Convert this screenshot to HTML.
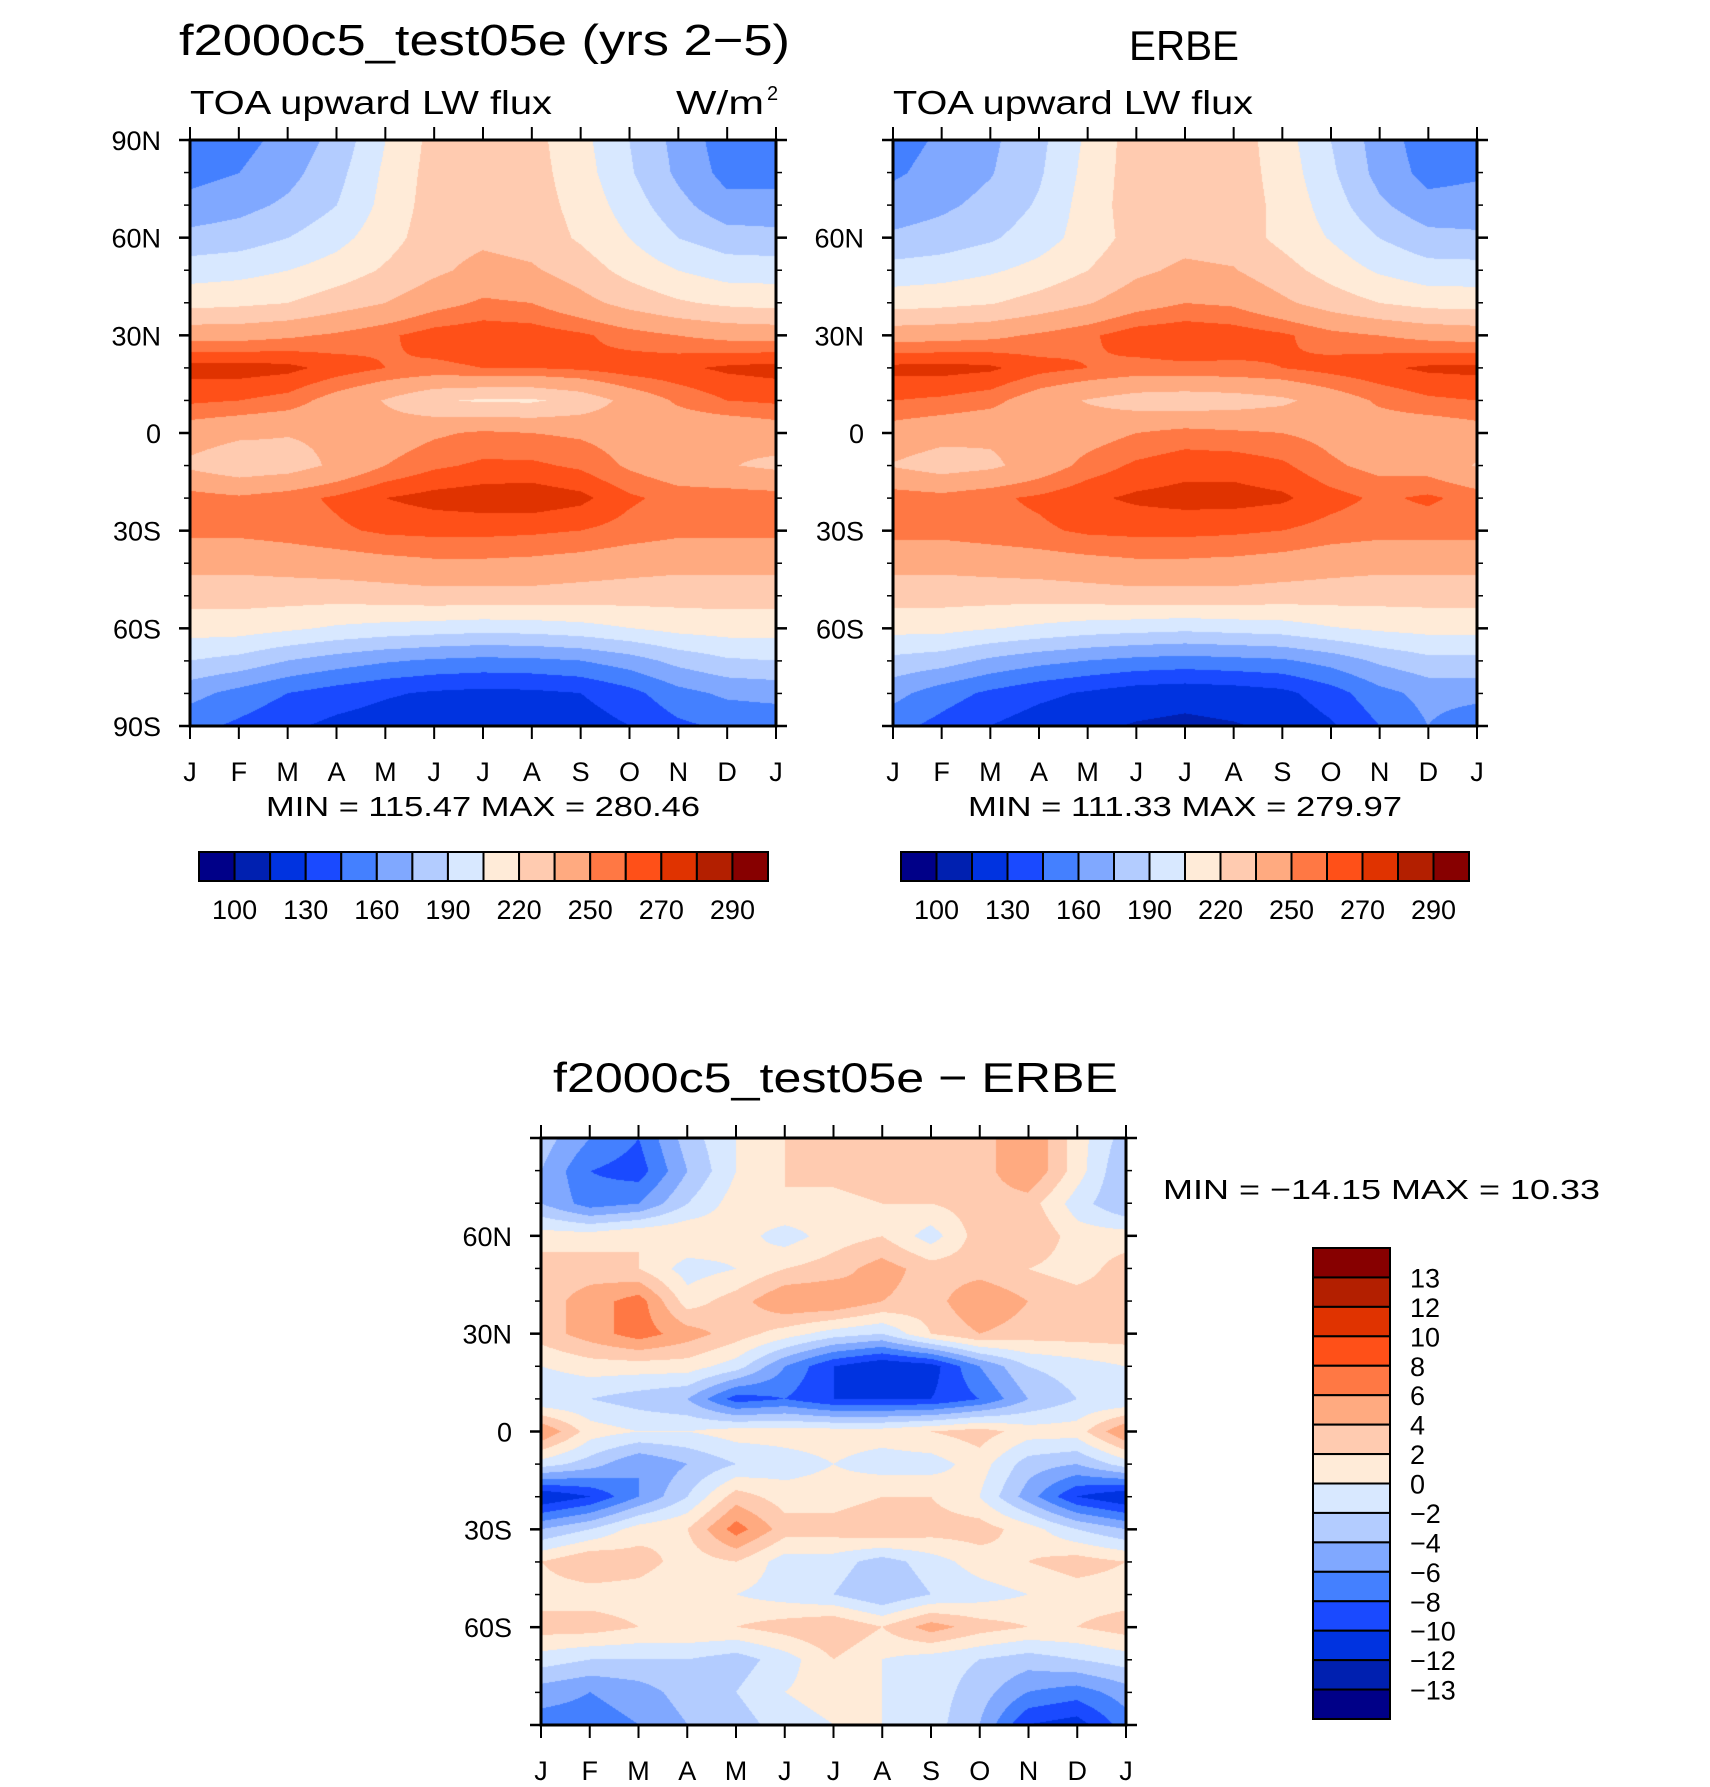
<!DOCTYPE html>
<html><head><meta charset="utf-8">
<style>
html,body{margin:0;padding:0;background:#fff;}
#wrap{position:relative;width:1710px;height:1787px;overflow:hidden;}
canvas{position:absolute;}
svg{position:absolute;left:0;top:0;}
text{font-family:"Liberation Sans",sans-serif;fill:#000;}
</style></head>
<body>
<div id="wrap">
<canvas id="c1"></canvas>
<canvas id="c2"></canvas>
<canvas id="c3"></canvas>
<svg id="ov" width="1710" height="1787"></svg>
</div>
<script>
// ---- data ----
const months = ["J","F","M","A","M","J","J","A","S","O","N","D","J"];
const lats = [90,80,70,60,50,40,30,20,10,0,-10,-20,-30,-40,-50,-60,-70,-80,-90];
const fluxLevels = [100,115,130,145,160,175,190,205,220,235,250,260,270,280,290];
const fluxLabels = ["100","130","160","190","220","250","270","290"];
const diffLevels = [-13,-12,-10,-8,-6,-4,-2,0,2,4,6,8,10,12,13];
const diffLabels = ["13","12","10","8","6","4","2","0","−2","−4","−6","−8","−10","−12","−13"];
const colors = ["#000088","#0020b0","#0033e0","#1a4aff","#4480ff","#80a8ff","#b3ccff","#d8e8ff","#ffebd8","#ffcbb0","#ffaa80","#ff7844","#ff5018","#e03300","#b31f00","#870000"];
const modelStats = "MIN = 115.47 MAX = 280.46";
const erbeStats = "MIN = 111.33 MAX = 279.97";
const diffStats = "MIN = −14.15 MAX =  10.33";
// rows = lats, columns = Jan..Dec
const model = [
[152,155,165,180,205,225,228,225,210,190,170,152],
[155,160,170,185,208,226,228,226,212,192,172,155],
[165,170,178,190,210,227,230,227,215,198,180,165],
[180,183,190,200,214,228,232,229,218,205,190,182],
[198,200,205,212,222,232,240,237,228,215,205,198],
[215,217,220,228,235,245,252,250,240,230,222,217],
[245,245,248,252,258,265,267,266,262,255,250,246],
[274,275,273,266,260,258,260,260,262,266,268,272],
[262,260,256,244,234,222,218,218,225,240,252,260],
[242,238,236,238,242,248,252,250,248,244,240,238],
[232,225,228,238,250,258,262,262,258,248,240,236],
[255,252,256,262,270,274,276,277,273,262,256,256],
[253,253,255,258,262,263,263,262,260,256,253,253],
[240,240,242,244,246,248,248,247,245,242,240,240],
[226,226,226,226,228,230,230,230,228,227,226,226],
[212,212,208,203,200,198,196,197,200,205,210,212],
[190,185,175,168,162,158,156,157,160,168,180,188],
[165,155,145,138,132,128,126,127,130,140,155,163],
[150,142,133,126,122,118,117,118,122,130,142,148]];
const erbe = [
[155,162,172,186,208,228,232,228,212,190,168,152],
[158,165,174,188,210,228,232,228,214,193,170,155],
[166,172,180,192,212,228,232,228,216,198,178,165],
[178,182,188,198,212,226,230,228,216,204,190,180],
[196,198,203,210,220,232,238,236,226,214,203,196],
[214,216,219,226,234,244,250,248,238,228,220,215],
[244,245,247,252,258,266,268,266,262,254,250,246],
[273,274,272,264,260,257,258,258,260,264,268,272],
[260,258,254,242,234,228,226,228,232,242,252,258],
[244,240,238,240,244,250,254,252,250,246,242,240],
[234,228,232,242,254,262,266,266,262,252,246,244],
[256,254,258,262,268,272,274,274,272,264,258,262],
[254,254,256,258,262,263,263,262,260,256,254,254],
[240,240,242,244,246,248,248,247,245,242,240,240],
[226,226,226,226,228,230,230,230,228,227,226,226],
[210,210,206,202,198,196,194,196,198,204,208,210],
[186,182,172,165,160,156,154,156,158,166,178,186],
[165,152,142,134,128,122,120,122,126,138,155,165],
[150,140,130,122,118,114,112,114,118,128,145,160]];
const diff = [
[-3,-6,-8,-3,0,2,3,4,3,3,6,1],
[-4,-8,-9,-4,0,2,3,4,3,3,6,1],
[-4,-7,-6,-2,1,2,1,2,2,3,3,-1],
[1,1,2,2,1,-1,1,2,-1,3,4,1],
[3,3,2,-1,0,2,3,5,3,3,2,1],
[3,5,7,1,3,6,6,4,3,6,4,3],
[3,5,7,5,3,1,-1,-2,2,4,3,3],
[0,1,1,1,-1,-6,-10,-12,-11,-6,-2,-1],
[-2,-2,-3,-4,-9,-8,-10,-10,-10,-8,-4,-2],
[6,1,0,0,1,1,1,1,2,3,1,1],
[-1,-3,-6,-4,-2,-1,0,-1,-1,1,-3,-4],
[-12,-10,-6,-2,3,1,1,2,2,0,-5,-10],
[-4,-2,1,2,7,3,3,4,3,3,1,-2],
[2,4,3,1,2,-1,-1,-3,-1,1,2,3],
[1,1,1,0,0,-1,-2,-4,-2,-1,0,1],
[3,3,2,2,2,3,4,2,5,3,2,2],
[-1,-2,-2,-2,-3,-1,2,0,-1,-2,-3,-2],
[-5,-6,-5,-3,-2,0,1,0,-1,-3,-6,-7],
[-7,-7,-6,-4,-3,-1,0,0,-1,-4,-10,-11]];

// ---- layout ----
const P1={x:190,y:140,w:586,h:586}, P2={x:893,y:140,w:584,h:586}, P3={x:541,y:1138,w:585,h:587};
const NS="http://www.w3.org/2000/svg";
const ov=document.getElementById('ov');
function el(tag,attrs,parent,txt){const e=document.createElementNS(NS,tag);for(const k in attrs)e.setAttribute(k,attrs[k]);if(txt!==undefined)e.textContent=txt;(parent||ov).appendChild(e);return e;}
function xScale(P,m){return P.x+m*P.w/12;}
function yScale(P,lat){return P.y+(90-lat)*P.h/180;}
function hex(c){return [parseInt(c.substr(1,2),16),parseInt(c.substr(3,2),16),parseInt(c.substr(5,2),16)];}
const rgb=colors.map(hex);
function classOf(v,levels){let k=0;while(k<levels.length&&v>=levels[k])k++;return k;}
function sample(grid,fx,fy){
  const j0=Math.min(11.999,Math.floor(fx)); const tx=fx-Math.floor(fx);
  const i0=Math.min(17,Math.floor(fy)); const ty=fy-i0;
  const ja=j0%12, jb=(j0+1)%12;
  const a=grid[i0][ja],b=grid[i0][jb],c=grid[i0+1][ja],d=grid[i0+1][jb];
  return (a*(1-tx)+b*tx)*(1-ty)+(c*(1-tx)+d*tx)*ty;
}
function drawField(id,P,grid,levels){
  const cv=document.getElementById(id);
  cv.width=P.w;cv.height=P.h;cv.style.left=P.x+'px';cv.style.top=P.y+'px';
  const ctx=cv.getContext('2d');const im=ctx.createImageData(P.w,P.h);
  for(let y=0;y<P.h;y++){const fy=y/(P.h-1)*(lats.length-1);
    for(let x=0;x<P.w;x++){const fx=x/(P.w-1)*12;
      const v=sample(grid,fx,fy);const c=rgb[classOf(v,levels)];
      const o=(y*P.w+x)*4;im.data[o]=c[0];im.data[o+1]=c[1];im.data[o+2]=c[2];im.data[o+3]=255;}}
  ctx.putImageData(im,0,0);
}
drawField('c1',P1,model,fluxLevels);
drawField('c2',P2,erbe,fluxLevels);
drawField('c3',P3,diff,diffLevels);

function latLabel(l){return l===0?"0":(Math.abs(l)+(l>0?"N":"S"));}
function axes(P,name,showPoles){
  const g=el('g',{});
  
  
  el('rect',{x:P.x,y:P.y,width:P.w,height:P.h,fill:'none',stroke:'#000','stroke-width':3},g);
  for(let m=0;m<=12;m++){const x=xScale(P,m);
    el('line',{x1:x,y1:P.y,x2:x,y2:P.y-13,stroke:'#000','stroke-width':2},g);
    el('line',{x1:x,y1:P.y+P.h,x2:x,y2:P.y+P.h+13,stroke:'#000','stroke-width':2},g);
    const t=el('text',{x:x,y:P.y+P.h+55,'font-size':27,'text-anchor':'middle'},g,months[m]);
    
    
  }
  for(let l=90;l>=-90;l-=10){const y=yScale(P,l);const maj=(l%30===0);
    const len=maj?11:6;
    el('line',{x1:P.x,y1:y,x2:P.x-len,y2:y,stroke:'#000','stroke-width':maj?2.5:1.5},g);
    el('line',{x1:P.x+P.w,y1:y,x2:P.x+P.w+len,y2:y,stroke:'#000','stroke-width':maj?2.5:1.5},g);
    if(maj&&(showPoles||Math.abs(l)!==90)){
      const t=el('text',{x:P.x-29,y:y+10,'font-size':27,'text-anchor':'end'},g,latLabel(l));
      
      
    }
  }
}
axes(P1,'model-plot',true);
axes(P2,'erbe-plot',false);
axes(P3,'difference-plot',false);

function txt(x,y,s,size,name,anchor,len){
  const a={x:x,y:y,'font-size':size,'text-anchor':anchor||'start'};
  if(len){a.textLength=len;a.lengthAdjust='spacingAndGlyphs';}
  const t=el('text',a,ov,s);
  
  
  return t;
}
txt(179,55,"f2000c5_test05e (yrs 2−5)",44,'model-title','start',611);
txt(190,114,"TOA upward LW flux",33,'model-variable-label','start',362);
txt(676,114,"W/m",33,'units-label','start',88);
txt(767,100,"2",20,'units-exponent','start');
txt(1184,60,"ERBE",42,'erbe-title','middle',110);
txt(893,114,"TOA upward LW flux",33,'erbe-variable-label','start',360);
txt(483,816,modelStats,28,'model-min-max','middle',434);
txt(1185,816,erbeStats,28,'erbe-min-max','middle',434);
txt(553,1092,"f2000c5_test05e − ERBE",42,'difference-title','start',565);
txt(1163,1199,diffStats,28,'difference-min-max','start',437);

function hbar(x0,y0,w,h,name){
  const g=el('g',{});
  
  
  const bw=w/colors.length;
  colors.forEach((c,i)=>{const r=el('rect',{x:x0+i*bw,y:y0,width:bw,height:h,fill:c,stroke:'#000','stroke-width':2},g);
    
    });
  fluxLabels.forEach((s,k)=>{const t=el('text',{x:x0+(2*k+1)*bw,y:y0+h+38,'font-size':27,'text-anchor':'middle'},g,s);
    
    });
}
hbar(199,852,569,29,'model-colorbar');
hbar(901,852,568,29,'erbe-colorbar');
(function(){
  const x0=1313,y0=1248,w=77,h=471;
  const g=el('g',{});
  
  
  const bh=h/colors.length;
  for(let i=0;i<colors.length;i++){
    const r=el('rect',{x:x0,y:y0+i*bh,width:w,height:bh,fill:colors[colors.length-1-i],stroke:'#000','stroke-width':2},g);
    
    
  }
  diffLabels.forEach((s,k)=>{const t=el('text',{x:x0+w+20,y:y0+(k+1)*bh+10,'font-size':27},g,s);
    
    });
})();
</script>
</body></html>
